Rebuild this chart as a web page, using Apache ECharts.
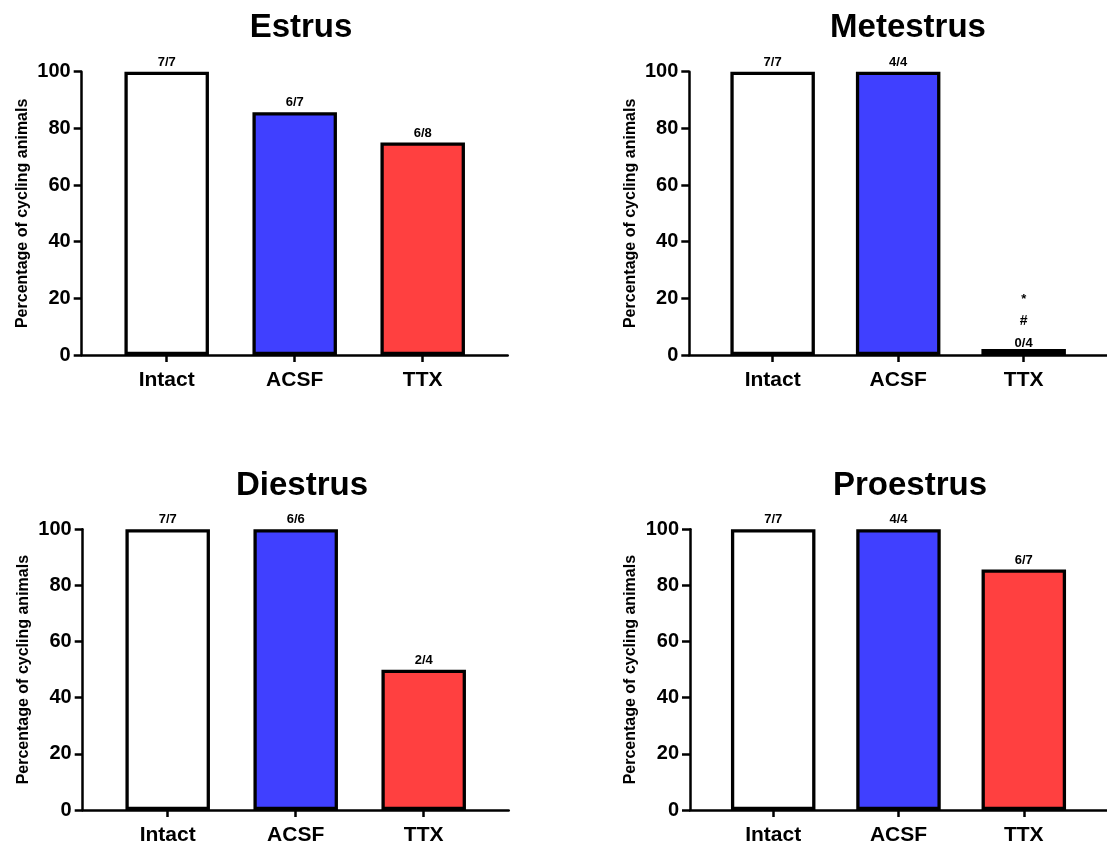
<!DOCTYPE html>
<html>
<head>
<meta charset="utf-8">
<script src="https://cdn.jsdelivr.net/npm/echarts@6/dist/echarts.min.js"></script>
<style>
html,body{margin:0;padding:0;background:#fff;}
#chart{width:1107px;height:846px;}
</style>
</head>
<body>
<div id="chart"></div>
<script>
// ---- data ----
const categories = ['Intact', 'ACSF', 'TTX'];
const panelTitles = ['Estrus', 'Metestrus', 'Diestrus', 'Proestrus'];
const estrusValues = [100, 85.7, 75];
const estrusLabels = ['7/7', '6/7', '6/8'];
const metestrusValues = [100, 100, 0];
const metestrusLabels = ['7/7', '4/4', '0/4'];
const metestrusMarks = ['', '', '*\n#'];
const diestrusValues = [100, 100, 50];
const diestrusLabels = ['7/7', '6/6', '2/4'];
const proestrusValues = [100, 100, 85.7];
const proestrusLabels = ['7/7', '4/4', '6/7'];
const yTicks = [0, 20, 40, 60, 80, 100];
const yAxisName = 'Percentage of cycling animals';

// ---- styling ----
const barColors = ['#ffffff', '#4040ff', '#ff4040'];
const FONT = 'Arial, "Liberation Sans", sans-serif';
const panels = [
  {values: estrusValues, labels: estrusLabels, marks: null, grid: {left: 81.7, top: 71.7, width: 426, height: 283.3}, title: {x: 296, y: 6}},
  {values: metestrusValues, labels: metestrusLabels, marks: metestrusMarks, grid: {left: 689.3, top: 71.7, width: 426, height: 283.3}, title: {x: 903, y: 6}},
  {values: diestrusValues, labels: diestrusLabels, marks: null, grid: {left: 82.7, top: 529.3, width: 426, height: 284}, title: {x: 297, y: 464}},
  {values: proestrusValues, labels: proestrusLabels, marks: null, grid: {left: 690, top: 529.3, width: 426, height: 284}, title: {x: 905, y: 464}}
];

const option = {
  backgroundColor: '#fff',
  animation: false,
  title: [], grid: [], xAxis: [], yAxis: [], series: []
};

const richBase = {
  n: {fontFamily: FONT, fontWeight: 'bold', fontSize: 13, color: '#000', lineHeight: 15},
  n2: {fontFamily: FONT, fontWeight: 'bold', fontSize: 13, color: '#000', lineHeight: 22},
  h: {fontFamily: FONT, fontWeight: 'bold', fontSize: 14, color: '#000', lineHeight: 22},
  s: {fontFamily: FONT, fontWeight: 'bold', fontSize: 13, color: '#000', lineHeight: 22}
};

panels.forEach((p, i) => {
  option.title.push({
    text: panelTitles[i], left: p.title.x, top: p.title.y, textAlign: 'center',
    textStyle: {fontFamily: FONT, fontWeight: 'bold', fontSize: 33, color: '#000'}
  });
  option.grid.push(Object.assign({containLabel: false}, p.grid));
  option.xAxis.push({
    type: 'value', gridIndex: i, min: -0.664, max: 2.664,
    splitLine: {show: false},
    axisLine: {show: true, onZero: false, lineStyle: {color: '#000', width: 2.5}},
    axisTick: {show: true, customValues: [0, 1, 2], length: 7, lineStyle: {color: '#000', width: 2.5}},
    axisLabel: {show: true, customValues: [0, 1, 2], margin: 15,
      formatter: v => categories[Math.round(v)],
      fontFamily: FONT, fontWeight: 'bold', fontSize: 21, color: '#000'}
  });
  option.yAxis.push({
    type: 'value', gridIndex: i, min: 0, max: 100, interval: 20,
    name: yAxisName, nameLocation: 'middle', nameGap: 51,
    nameTextStyle: {fontFamily: FONT, fontWeight: 'bold', fontSize: 16, color: '#000'},
    splitLine: {show: false},
    axisLine: {show: true, onZero: false, lineStyle: {color: '#000', width: 2.5}},
    axisTick: {show: true, length: 8, lineStyle: {color: '#000', width: 2.5}},
    axisLabel: {margin: 11, fontFamily: FONT, fontWeight: 'bold', fontSize: 20, color: '#000',
      customValues: yTicks}
  });
  option.series.push({
    type: 'bar', xAxisIndex: i, yAxisIndex: i, clip: false,
    barWidth: 84.5, barMinHeight: 6,
    data: p.values.map((v, j) => {
      const hasMark = p.marks && p.marks[j];
      return {
        value: [j, v],
        itemStyle: {color: barColors[j], borderColor: '#000', borderWidth: 3.3},
        label: {
          show: true, position: 'top', distance: hasMark ? -5 : 2,
          formatter: hasMark ?
            (p.marks[j].split('\n').map(m => m === '*' ? '{s|*}' : '{h|' + m + '}').join('\n') + '\n{n2|' + p.labels[j] + '}') :
            '{n|' + p.labels[j] + '}',
          rich: richBase
        }
      };
    })
  });
});

const chart = echarts.init(document.getElementById('chart'), null, {renderer: 'canvas'});
chart.setOption(option);
</script>
</body>
</html>
